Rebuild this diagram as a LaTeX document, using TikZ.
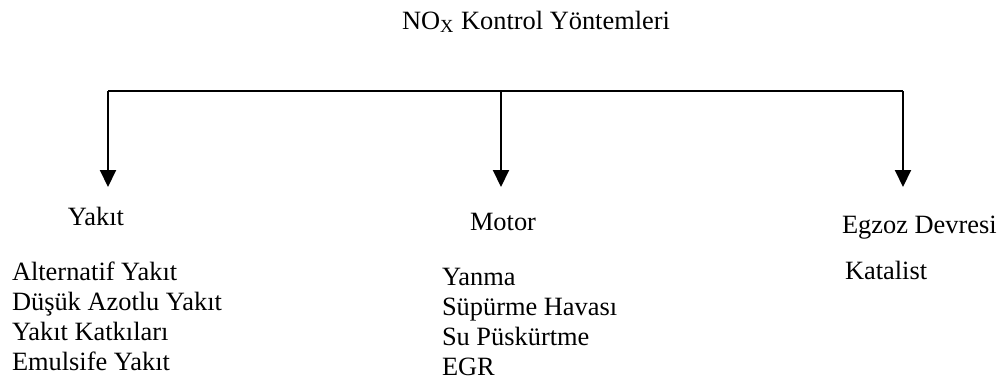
\documentclass[tikz,border=0pt]{standalone}
\usepackage{fontspec}
\setmainfont{Liberation Serif}
\usetikzlibrary{arrows.meta}
\begin{document}
\begin{tikzpicture}[x=0.5pt,y=-0.5pt,
  txt/.style={anchor=base west,inner sep=0pt,outer sep=0pt,font=\fontsize{13.2}{15}\selectfont},
  conn/.style={line width=1pt,-{Triangle[length=8.5pt,width=8pt]}},
  bar/.style={line width=1pt}]
\useasboundingbox (0,0) rectangle (1002,382);
\node[txt] (title) at (402,29) {NO\textsubscript{X} Kontrol Yöntemleri};
% bracket
\coordinate (hl) at (108,91);
\coordinate (hm) at (501,91);
\coordinate (hr) at (903,91);
\coordinate (tl) at (108,187);
\coordinate (tm) at (501,187);
\coordinate (tr) at (903,187);
\draw[bar] (hl) -- (hr);
\draw[conn] (hl) -- (tl);
\draw[conn] (hm) -- (tm);
\draw[conn] (hr) -- (tr);
% categories
\node[txt] (yakit) at (68,225) {Yakıt};
\node[txt] (motor) at (470,230) {Motor};
\node[txt] (egzoz) at (842,233) {Egzoz Devresi};
% items
\node[txt] (y1) at (12,280) {Alternatif Yakıt};
\node[txt] (y2) at (12,310) {Düşük Azotlu Yakıt};
\node[txt] (y3) at (12,340) {Yakıt Katkıları};
\node[txt] (y4) at (12,370) {Emulsife Yakıt};
\node[txt] (m1) at (442,285) {Yanma};
\node[txt] (m2) at (442,315) {Süpürme Havası};
\node[txt] (m3) at (442,345) {Su Püskürtme};
\node[txt] (m4) at (442,375) {EGR};
\node[txt] (e1) at (845,279) {Katalist};
\end{tikzpicture}
\end{document}
